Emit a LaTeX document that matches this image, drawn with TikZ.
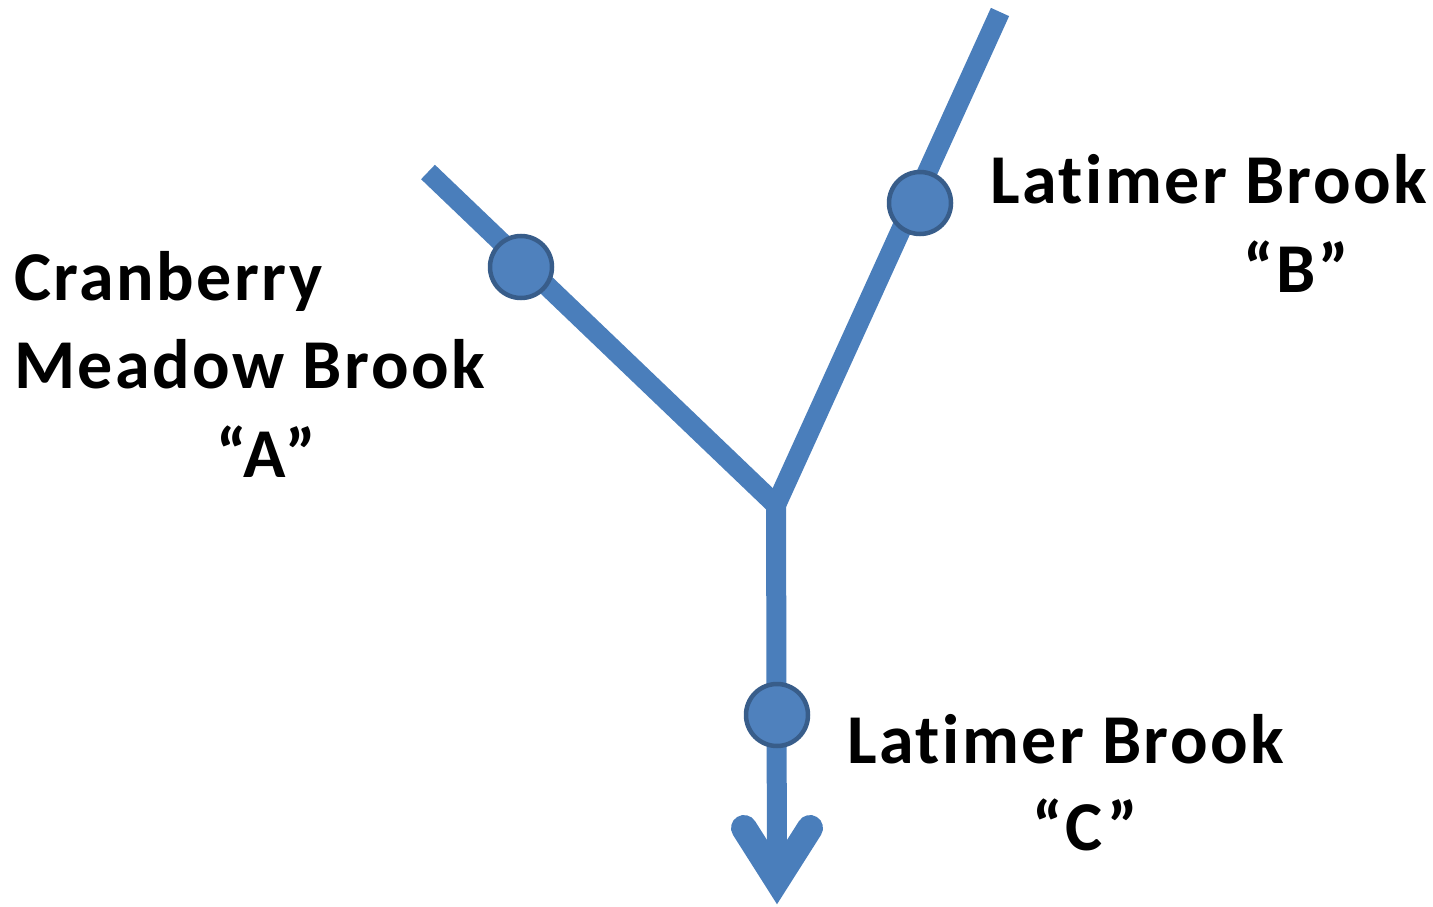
\documentclass[tikz,border=0pt]{standalone}
\usepackage{fontspec}
\setmainfont[Ligatures=NoCommon,LetterSpace=3.5]{Carlito}
\begin{document}
\begin{tikzpicture}[x=1pt,y=-1pt,
  stream/.style={draw=streamblue,line width=20pt,line join=miter},
  station/.style={circle,fill=dotfill,draw=dotborder,line width=4.5pt,minimum size=62pt,inner sep=0pt},
  lbl/.style={font=\fontsize{70}{84}\selectfont\bfseries,inner sep=0pt}]
\definecolor{streamblue}{HTML}{4A7EBB}
\definecolor{dotfill}{HTML}{4F81BD}
\definecolor{dotborder}{HTML}{385D8A}
\useasboundingbox (0,0) rectangle (1433,907);
\coordinate (aend) at (428,172);
\coordinate (bend) at (1000,12);
\coordinate (junc) at (776,505);
\coordinate (head) at (777,880);
\coordinate (wl) at (744,828);
\coordinate (wr) at (810,828);
\draw[stream] (aend) -- (junc) -- (head);
\draw[stream] (bend) -- (junc);
\draw[draw=streamblue,line width=26pt,line join=miter,line cap=round] (wl) -- (head) -- (wr);
\node[station] (ca) at (521,267) {};
\node[station] (cb) at (920,203) {};
\node[station] (cc) at (777,715) {};
\node[lbl,anchor=base west] (a1) at (14,300) {Cranberry};
\node[lbl,anchor=base west] (a2) at (14,388) {Meadow Brook};
\node[lbl,anchor=base] (a3) at (266,477) {“A”};
\node[lbl,anchor=base west] (b1) at (990,203) {Latimer Brook};
\node[lbl,anchor=base] (b2) at (1296,292) {“B”};
\node[lbl,anchor=base west] (c1) at (847,763) {Latimer Brook};
\node[lbl,anchor=base] (c2) at (1085,850) {“C”};
\end{tikzpicture}
\end{document}
